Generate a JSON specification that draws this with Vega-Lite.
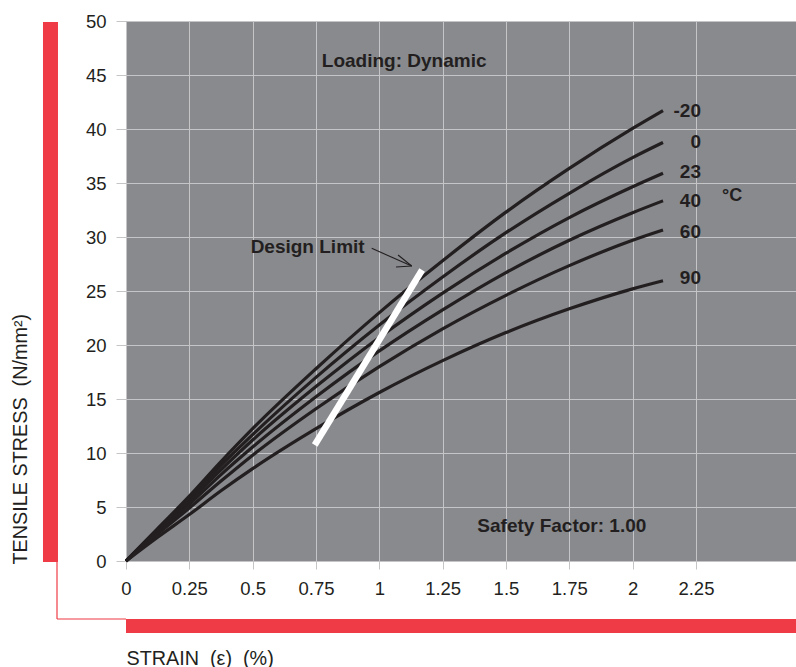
{
  "$schema": "https://vega.github.io/schema/vega-lite/v6.json",
  "width": 670,
  "height": 540,
  "autosize": {"type": "none"},
  "padding": {"left": 126, "top": 21, "right": 0, "bottom": 106},
  "background": "white",
  "view": {"fill": "#898a8e", "stroke": null},
  "config": {"font": "Liberation Sans"},
  "datasets": {
    "curves": [
      {"t": "-20", "x": 0, "y": 0}, {"t": "-20", "x": 0.125, "y": 3.0}, {"t": "-20", "x": 0.25, "y": 6.0}, {"t": "-20", "x": 0.375, "y": 9.2}, {"t": "-20", "x": 0.5, "y": 12.25}, {"t": "-20", "x": 0.75, "y": 17.8}, {"t": "-20", "x": 1.0, "y": 23.0}, {"t": "-20", "x": 1.25, "y": 27.8}, {"t": "-20", "x": 1.5, "y": 32.3}, {"t": "-20", "x": 1.75, "y": 36.35}, {"t": "-20", "x": 2.0, "y": 40.05}, {"t": "-20", "x": 2.12, "y": 41.7},
      {"t": "0", "x": 0, "y": 0}, {"t": "0", "x": 0.125, "y": 2.95}, {"t": "0", "x": 0.25, "y": 5.8}, {"t": "0", "x": 0.375, "y": 8.85}, {"t": "0", "x": 0.5, "y": 11.7}, {"t": "0", "x": 0.75, "y": 17.0}, {"t": "0", "x": 1.0, "y": 21.85}, {"t": "0", "x": 1.25, "y": 26.3}, {"t": "0", "x": 1.5, "y": 30.4}, {"t": "0", "x": 1.75, "y": 34.05}, {"t": "0", "x": 2.0, "y": 37.35}, {"t": "0", "x": 2.12, "y": 38.75},
      {"t": "23", "x": 0, "y": 0}, {"t": "23", "x": 0.125, "y": 2.85}, {"t": "23", "x": 0.25, "y": 5.55}, {"t": "23", "x": 0.375, "y": 8.45}, {"t": "23", "x": 0.5, "y": 11.2}, {"t": "23", "x": 0.75, "y": 16.15}, {"t": "23", "x": 1.0, "y": 20.7}, {"t": "23", "x": 1.25, "y": 24.8}, {"t": "23", "x": 1.5, "y": 28.5}, {"t": "23", "x": 1.75, "y": 31.8}, {"t": "23", "x": 2.0, "y": 34.65}, {"t": "23", "x": 2.12, "y": 35.9},
      {"t": "40", "x": 0, "y": 0}, {"t": "40", "x": 0.125, "y": 2.7}, {"t": "40", "x": 0.25, "y": 5.25}, {"t": "40", "x": 0.375, "y": 8.0}, {"t": "40", "x": 0.5, "y": 10.55}, {"t": "40", "x": 0.75, "y": 15.2}, {"t": "40", "x": 1.0, "y": 19.45}, {"t": "40", "x": 1.25, "y": 23.25}, {"t": "40", "x": 1.5, "y": 26.7}, {"t": "40", "x": 1.75, "y": 29.7}, {"t": "40", "x": 2.0, "y": 32.25}, {"t": "40", "x": 2.12, "y": 33.35},
      {"t": "60", "x": 0, "y": 0}, {"t": "60", "x": 0.125, "y": 2.5}, {"t": "60", "x": 0.25, "y": 4.9}, {"t": "60", "x": 0.375, "y": 7.4}, {"t": "60", "x": 0.5, "y": 9.8}, {"t": "60", "x": 0.75, "y": 14.1}, {"t": "60", "x": 1.0, "y": 18.0}, {"t": "60", "x": 1.25, "y": 21.5}, {"t": "60", "x": 1.5, "y": 24.6}, {"t": "60", "x": 1.75, "y": 27.35}, {"t": "60", "x": 2.0, "y": 29.7}, {"t": "60", "x": 2.12, "y": 30.65},
      {"t": "90", "x": 0, "y": 0}, {"t": "90", "x": 0.125, "y": 2.2}, {"t": "90", "x": 0.25, "y": 4.3}, {"t": "90", "x": 0.375, "y": 6.5}, {"t": "90", "x": 0.5, "y": 8.55}, {"t": "90", "x": 0.75, "y": 12.25}, {"t": "90", "x": 1.0, "y": 15.6}, {"t": "90", "x": 1.25, "y": 18.55}, {"t": "90", "x": 1.5, "y": 21.15}, {"t": "90", "x": 1.75, "y": 23.35}, {"t": "90", "x": 2.0, "y": 25.2}, {"t": "90", "x": 2.12, "y": 25.95}
    ],
    "curveLabels": [
      {"t": "-20", "x": 2.27, "y": 41.7},
      {"t": "0", "x": 2.27, "y": 38.8},
      {"t": "23", "x": 2.27, "y": 36.0},
      {"t": "40", "x": 2.27, "y": 33.3},
      {"t": "60", "x": 2.27, "y": 30.5},
      {"t": "90", "x": 2.27, "y": 26.2}
    ],
    "unit": [{"t": "°C", "x": 2.353, "y": 33.8}],
    "notes": [
      {"t": "Loading: Dynamic", "x": 0.773, "y": 46.3},
      {"t": "Design Limit", "x": 0.492, "y": 29.1},
      {"t": "Safety Factor: 1.00", "x": 1.387, "y": 3.24}
    ],
    "designLimit": [{"x": 0.745, "y": 10.74, "x2": 1.169, "y2": 26.94}],
    "arrow": [
      {"x": 0.970, "y": 28.95, "x2": 1.128, "y2": 27.31},
      {"x": 1.074, "y": 28.33, "x2": 1.128, "y2": 27.31},
      {"x": 1.066, "y": 27.22, "x2": 1.128, "y2": 27.31}
    ],
    "bars": [
      {"x": -0.3277, "x2": -0.2685, "y": 49.9, "y2": -0.1},
      {"x": 0, "x2": 2.645, "y": -5.37, "y2": -6.67}
    ],
    "thin": [
      {"x": -0.2724, "y": -0.1, "x2": -0.2724, "y2": -5.37},
      {"x": -0.2724, "y": -5.37, "x2": 0, "y2": -5.37}
    ]
  },
  "encoding": {
    "x": {
      "field": "x", "type": "quantitative",
      "scale": {"domain": [0, 2.645], "nice": false, "zero": false},
      "axis": {
        "title": "STRAIN \u00a0(ε) \u00a0(%)",
        "values": [0, 0.25, 0.5, 0.75, 1, 1.25, 1.5, 1.75, 2, 2.25],
        "format": ".2~f",
        "domain": false,
        "grid": true,
        "gridColor": "#c5c5c7",
        "gridWidth": 1,
        "gridOpacity": 1,
        "tickColor": "#c5c5c7",
        "tickSize": 8,
        "labelFont": "Liberation Sans",
        "labelFontSize": 18.5,
        "labelColor": "#231f20",
        "labelPadding": 10,
        "labelFlush": false,
        "labelOverlap": false,
        "titleFont": "Liberation Sans",
        "titleFontSize": 19.8,
        "titleFontWeight": "normal",
        "titleColor": "#231f20",
        "titleAnchor": "start",
        "titleAlign": "left",
        "titleBaseline": "alphabetic",
        "titleX": 0,
        "titleY": 103
      }
    },
    "y": {
      "field": "y", "type": "quantitative",
      "scale": {"domain": [0, 50], "nice": false},
      "axis": {
        "title": "TENSILE STRESS \u00a0(N/mm²)",
        "values": [0, 5, 10, 15, 20, 25, 30, 35, 40, 45, 50],
        "domain": false,
        "grid": true,
        "gridColor": "#c5c5c7",
        "gridWidth": 1,
        "gridOpacity": 1,
        "tickColor": "#c5c5c7",
        "tickSize": 10,
        "labelFont": "Liberation Sans",
        "labelFontSize": 18.5,
        "labelColor": "#231f20",
        "labelPadding": 10,
        "labelFlush": false,
        "labelOverlap": false,
        "titleFont": "Liberation Sans",
        "titleFontSize": 19.8,
        "titleFontWeight": "normal",
        "titleColor": "#231f20",
        "titleAngle": 270,
        "titleAlign": "left",
        "titleBaseline": "alphabetic",
        "titleX": -99.5,
        "titleY": 543
      }
    }
  },
  "layer": [
    {
      "data": {"name": "bars"},
      "mark": {"type": "rect", "color": "#ee3b45"},
      "encoding": {"x2": {"field": "x2"}, "y2": {"field": "y2"}}
    },
    {
      "data": {"name": "thin"},
      "mark": {"type": "rule", "color": "#ee3b45", "strokeWidth": 1.2},
      "encoding": {"x2": {"field": "x2"}, "y2": {"field": "y2"}}
    },
    {
      "data": {"name": "curves"},
      "mark": {"type": "line", "color": "#231f20", "strokeWidth": 3.2, "interpolate": "monotone", "strokeCap": "butt"},
      "encoding": {"detail": {"field": "t", "type": "nominal"}}
    },
    {
      "data": {"name": "designLimit"},
      "mark": {"type": "rule", "color": "#ffffff", "strokeWidth": 6.5, "strokeCap": "butt"},
      "encoding": {"x2": {"field": "x2"}, "y2": {"field": "y2"}}
    },
    {
      "data": {"name": "arrow"},
      "mark": {"type": "rule", "color": "#231f20", "strokeWidth": 1.1},
      "encoding": {"x2": {"field": "x2"}, "y2": {"field": "y2"}}
    },
    {
      "data": {"name": "curveLabels"},
      "mark": {"type": "text", "align": "right", "baseline": "middle", "font": "Liberation Sans", "fontSize": 19, "fontWeight": "bold", "color": "#231f20"},
      "encoding": {"text": {"field": "t"}}
    },
    {
      "data": {"name": "unit"},
      "mark": {"type": "text", "align": "left", "baseline": "middle", "font": "Liberation Sans", "fontSize": 18, "fontWeight": "bold", "color": "#231f20"},
      "encoding": {"text": {"field": "t"}}
    },
    {
      "data": {"name": "notes"},
      "mark": {"type": "text", "align": "left", "baseline": "middle", "font": "Liberation Sans", "fontSize": 19, "fontWeight": "bold", "color": "#231f20"},
      "encoding": {"text": {"field": "t"}}
    }
  ]
}
